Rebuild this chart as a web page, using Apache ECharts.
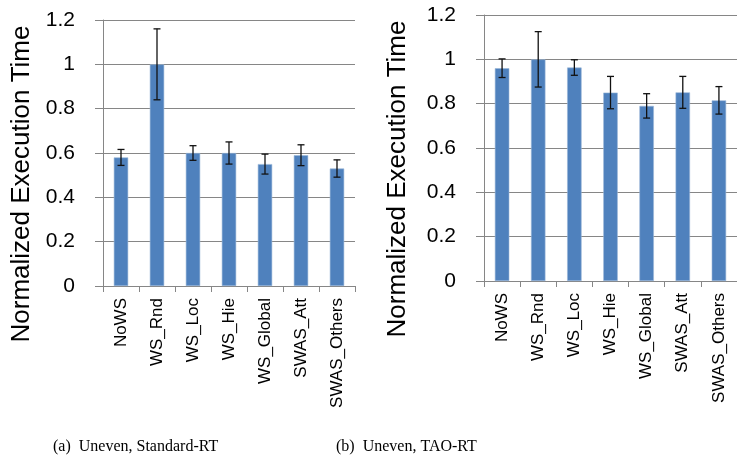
<!DOCTYPE html>
<html>
<head>
<meta charset="UTF-8">
<title>Normalized Execution Time</title>
<script src="https://cdn.jsdelivr.net/npm/echarts@6/dist/echarts.min.js"></script>
<style>
    body { margin: 0; padding: 0; background: #fff; }
    #main { width: 737px; height: 465px; }
</style>
</head>
<body>
<div id="main"></div>
<script type="text/javascript">
    // data
    var categories = ['NoWS', 'WS_Rnd', 'WS_Loc', 'WS_Hie', 'WS_Global', 'SWAS_Att', 'SWAS_Others'];
    var stdMeans  = [0.58, 1.00, 0.60, 0.60, 0.55, 0.59, 0.53];
    var stdErrors = [0.036, 0.16, 0.033, 0.05, 0.045, 0.047, 0.039];
    var taoMeans  = [0.96, 1.00, 0.963, 0.85, 0.79, 0.851, 0.815];
    var taoErrors = [0.042, 0.125, 0.035, 0.073, 0.055, 0.072, 0.062];
    var yMin = 0, yMax = 1.2, yStep = 0.2;
    var yName = 'Normalized Execution Time';
    var captions = ['(a)  Uneven, Standard-RT', '(b)  Uneven, TAO-RT'];

    var font = 'Liberation Sans';
    var gridColor = '#868686';

    function errData(means, errs) {
        var out = [];
        for (var i = 0; i < means.length; i++) {
            out.push([i, means[i] - errs[i], means[i] + errs[i]]);
        }
        return out;
    }

    function renderErr(params, api) {
        var lo = api.coord([api.value(0), api.value(1)]);
        var hi = api.coord([api.value(0), api.value(2)]);
        var cap = 3.5;
        var st = { stroke: '#111', lineWidth: 1.3 };
        return {
            type: 'group',
            children: [
                { type: 'line', shape: { x1: lo[0], y1: lo[1], x2: hi[0], y2: hi[1] }, style: st },
                { type: 'line', shape: { x1: hi[0] - cap, y1: hi[1], x2: hi[0] + cap, y2: hi[1] }, style: st },
                { type: 'line', shape: { x1: lo[0] - cap, y1: lo[1], x2: lo[0] + cap, y2: lo[1] }, style: st }
            ]
        };
    }

    function xAx(idx) {
        return {
            type: 'category', gridIndex: idx, data: categories,
            axisLine: { lineStyle: { color: gridColor, width: 1 } },
            axisTick: { show: true, length: 6, lineStyle: { color: gridColor } },
            axisLabel: { rotate: 90, margin: 12, fontFamily: font, fontSize: 17, color: '#000' }
        };
    }

    function yAx(idx, gap) {
        return {
            type: 'value', gridIndex: idx, min: yMin, max: yMax, interval: yStep,
            name: yName, nameLocation: 'middle', nameGap: gap,
            nameTextStyle: { fontFamily: font, fontSize: 26, color: '#000', padding: [0, 62, 0, 0] },
            axisLine: { show: true, lineStyle: { color: gridColor, width: 1 } },
            axisTick: { show: true, length: 8, lineStyle: { color: gridColor } },
            axisLabel: { margin: 28, fontFamily: font, fontSize: 21, color: '#000' },
            splitLine: { lineStyle: { color: gridColor, width: 1 } }
        };
    }

    var myChart = echarts.init(document.getElementById('main'));
    var option = {
        animation: false,
        grid: [
            { left: 103, right: 382, top: 20, bottom: 179 },
            { left: 484, right: -6, top: 15, bottom: 184 }
        ],
        xAxis: [xAx(0), xAx(1)],
        yAxis: [yAx(0, 68), yAx(1, 73)],
        series: [
            { type: 'bar', xAxisIndex: 0, yAxisIndex: 0, data: stdMeans, barWidth: '40%',
              itemStyle: { color: '#4F81BD', borderColor: '#9bb7d9', borderWidth: 0.6 } },
            { type: 'custom', xAxisIndex: 0, yAxisIndex: 0, data: errData(stdMeans, stdErrors),
              renderItem: renderErr, z: 5 },
            { type: 'bar', xAxisIndex: 1, yAxisIndex: 1, data: taoMeans, barWidth: '40%',
              itemStyle: { color: '#4F81BD', borderColor: '#9bb7d9', borderWidth: 0.6 } },
            { type: 'custom', xAxisIndex: 1, yAxisIndex: 1, data: errData(taoMeans, taoErrors),
              renderItem: renderErr, z: 5 }
        ],
        graphic: [
            { type: 'text', left: 53, top: 439,
              style: { text: captions[0], font: '16px "Liberation Serif"', fill: '#000' } },
            { type: 'text', left: 336, top: 439,
              style: { text: captions[1], font: '16px "Liberation Serif"', fill: '#000' } }
        ]
    };
    myChart.setOption(option);
</script>
</body>
</html>
